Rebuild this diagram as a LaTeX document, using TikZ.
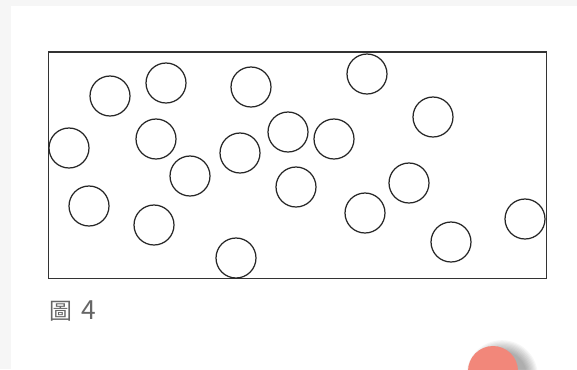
\documentclass[tikz,border=0pt]{standalone}
\usepackage{fontspec}
\newfontfamily\cjk{Noto Sans CJK TC}
\definecolor{pagegray}{HTML}{F6F6F6}
\definecolor{inkgray}{HTML}{333333}
\definecolor{capgray}{HTML}{666666}
\definecolor{salmon}{HTML}{F2877A}
\tikzset{
  ball/.style={draw=black!85, circle, line width=0.7pt, inner sep=0pt, minimum size=0.8cm},
  caption/.style={anchor=west, inner sep=0pt, text=capgray, font=\cjk\fontsize{13}{15}\selectfont}
}
\begin{document}
\begin{tikzpicture}[x=0.02cm, y=-0.02cm]
  \useasboundingbox (0,0) rectangle (577,369);
  \clip (0,0) rectangle (577,369);

  % --- pagina ---
  \fill[pagegray] (0,0) rectangle (577,369);
  \fill[white] (11,6) rectangle (577,369);

  % --- scatola ---
  \draw[inkgray, line width=0.85pt] (48.5,52) rectangle (546.5,278.5);

  % --- palline ---
  \foreach \px/\py [count=\i] in {110/96, 166/83, 251/87, 367/74, 433/117,
      69/148, 156/139, 240/153, 288/132, 334/139, 190/176, 296/187,
      409/183, 89/206, 154/225, 365/213, 525/219, 451/242, 236/258}
    \node[ball] (b\i) at (\px,\py) {};

  % --- didascalia ---
  \node[caption] (cap) at (49,311) {圖\hspace{0.4em}{\fontsize{15}{15}\selectfont 4}};

  % --- bottone ---
  \foreach \s in {0,...,9}
    \fill[black, opacity=0.035] (502,376) circle ({25+1.2*\s});
  \node[circle, fill=salmon, inner sep=0pt, minimum size=1cm] (btn) at (493,371) {};
\end{tikzpicture}
\end{document}
